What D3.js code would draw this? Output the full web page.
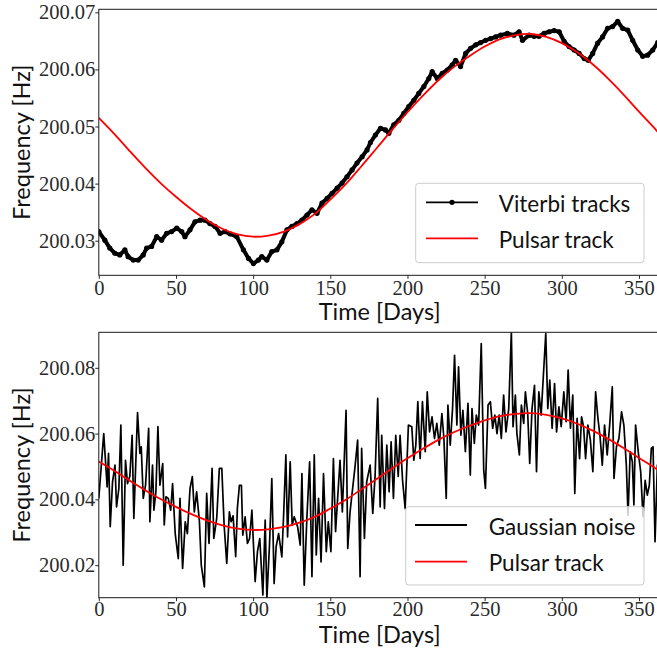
<!DOCTYPE html>
<html lang="en">
<head>
<meta charset="UTF-8">
<title>Viterbi tracks vs pulsar track</title>
<script src="https://cdn.jsdelivr.net/npm/d3@7"></script>
<style>
  body { margin: 0; background: #fff; }
  .tick text { font-family: "Liberation Serif", serif; font-size: 20.5px; fill: #2a2a2a; }
  .tick line { stroke: #262626; }
  .axis-label, .legend-label { font-family: Lato, sans-serif; fill: #111; }
</style>
</head>
<body>
<script>
// --- data ---
const xTicks = [0, 50, 100, 150, 200, 250, 300, 350];
const topYTicks = [200.03, 200.04, 200.05, 200.06, 200.07];
const bottomYTicks = [200.02, 200.04, 200.06, 200.08];

// injected pulsar signal (same in both panels)
const trackDays = [0, 10, 20, 30, 40, 50, 60, 70, 80, 90, 100, 110, 120, 130, 140, 150, 160, 170, 180,
  190, 200, 210, 220, 230, 240, 250, 260, 270, 280, 290, 300, 310, 320, 330, 340, 350, 360, 364];
const trackHz = [200.0515, 200.0487, 200.0457, 200.0428, 200.0401, 200.0377, 200.0355, 200.0336, 200.0321,
  200.0311, 200.0307, 200.0309, 200.0316, 200.0329, 200.0347, 200.0372, 200.0399, 200.0430, 200.0462,
  200.0494, 200.0525, 200.0554, 200.0581, 200.0604, 200.0623, 200.0640, 200.0653, 200.0660, 200.0662,
  200.0657, 200.0646, 200.0630, 200.0609, 200.0584, 200.0556, 200.0526, 200.0497, 200.0485];

// recovered Viterbi path (top panel)
const viterbiDays = [0, 3.9, 7.1, 10.4, 13.6, 16.9, 19, 22.3, 25.5, 28.8, 31, 34.2, 37.5, 40.7, 44, 47.2,
  50.5, 53.7, 55.8, 59.1, 62.3, 65.6, 68.8, 72, 75.3, 78.6, 81.8, 85, 89.4, 93.7, 97, 100.2, 103.4, 105.6,
  108.9, 112.1, 115.4, 118.6, 121.9, 125.1, 128.4, 131.6, 134.9, 138.1, 141.4, 144.6, 147.9, 151.1, 154.4,
  157.6, 160.8, 164.1, 167.3, 170.6, 173.8, 176, 179.2, 182.5, 185.7, 187.9, 191.1, 194.4, 197.6, 200.8,
  204.1, 207.3, 210.6, 213.8, 216, 219.3, 222.5, 225.8, 229, 231.2, 234.4, 237.7, 240.9, 244.2, 247.4,
  250.6, 253.9, 257.1, 260.4, 264.7, 269, 272.3, 274.5, 278.8, 282, 285.3, 288.5, 291.8, 295, 298.3,
  301.5, 304.7, 308, 311.2, 314.5, 317.1, 320, 323.2, 326.4, 329.7, 332.9, 336.2, 339.4, 342.7, 345.9,
  349.2, 352.4, 355.6, 358.9, 362.1, 364];
const viterbiHz = [200.0316, 200.0301, 200.0287, 200.0278, 200.0275, 200.0284, 200.0272, 200.0266, 200.0266,
  200.0275, 200.0287, 200.0290, 200.0307, 200.0301, 200.0313, 200.0316, 200.0322, 200.0316, 200.0307,
  200.0319, 200.0333, 200.0336, 200.0336, 200.0330, 200.0325, 200.0313, 200.0316, 200.0312, 200.0307,
  200.0284, 200.0269, 200.0260, 200.0266, 200.0272, 200.0266, 200.0281, 200.0284, 200.0298, 200.0319,
  200.0325, 200.0330, 200.0336, 200.0345, 200.0354, 200.0348, 200.0366, 200.0374, 200.0383, 200.0392,
  200.0401, 200.0412, 200.0424, 200.0436, 200.0447, 200.0459, 200.0472, 200.0485, 200.0497, 200.0494,
  200.0488, 200.0503, 200.0511, 200.0523, 200.0535, 200.0546, 200.0558, 200.0570, 200.0584, 200.0596,
  200.0584, 200.0593, 200.0599, 200.0608, 200.0616, 200.0605, 200.0628, 200.0637, 200.0643, 200.0647,
  200.0651, 200.0654, 200.0657, 200.0660, 200.0663, 200.0660, 200.0666, 200.0651, 200.0660, 200.0658,
  200.0658, 200.0663, 200.0666, 200.0668, 200.0666, 200.0649, 200.0640, 200.0634, 200.0628, 200.0619,
  200.0616, 200.0628, 200.0646, 200.0657, 200.0672, 200.0675, 200.0684, 200.0672, 200.0669, 200.0651,
  200.0634, 200.0623, 200.0625, 200.0634, 200.0647, 200.0652];

// gaussian-noise track (bottom panel)
const noiseDays = [0, 3.2, 5.4, 6.3, 7.4, 8.9, 10.5, 11.5, 13, 14.3, 15.8, 17.3, 18.6, 20.1, 21.6, 22.7,
  25.1, 26.6, 27.5, 28.8, 30.3, 32.3, 33.1, 34.8, 35.7, 37, 38.3, 39.6, 41.4, 42.4, 43.5, 45, 46.6, 47.8,
  49.5, 51.5, 52.6, 54.3, 56, 57.4, 59.1, 60.6, 61.9, 63.4, 65.2, 66.4, 68.4, 69.9, 71.4, 73.4, 74.5,
  76.4, 78.1, 79.7, 81.2, 82.9, 84.6, 85.7, 87, 88.7, 89.8, 91.1, 92.4, 93.3, 94.8, 96.3, 97.7, 99.2,
  101.3, 102.8, 104.3, 106.3, 107.8, 108.9, 110.6, 112.1, 113.6, 114.9, 116.5, 118.6, 119.7, 121.2,
  122.3, 124, 125.3, 126.6, 128.8, 130.5, 131.6, 133.1, 134.8, 136.6, 138.1, 139.6, 140.9, 142.4, 144,
  145.6, 147.4, 148.7, 150.4, 152, 153.4, 156.3, 157.8, 160.2, 161.3, 162.8, 166, 167.7, 169.3, 170.3,
  172.1, 173.6, 175.8, 177.5, 179, 180.7, 182.3, 183.3, 185.1, 186.6, 188.1, 189.4, 190.9, 192.4, 194,
  195.2, 196.8, 198.5, 199.6, 200.6, 202.8, 204.1, 205.4, 206.7, 208.2, 209.7, 211.5, 212.8, 214.3,
  215.9, 217.5, 219, 220.6, 222.3, 223.6, 225.1, 226.2, 227.7, 229.2, 230.5, 232, 233.1, 234.6, 235.9,
  237.5, 239.2, 240.7, 241.8, 243.3, 244.6, 246.1, 247.8, 249.4, 250.5, 252.2, 253.7, 255.2, 256.6,
  258, 259.4, 260.8, 262.3, 263.8, 265.6, 267.3, 268.4, 269.9, 270.9, 272.5, 273.8, 275.3, 276.4, 277.9,
  279.2, 280.7, 282.3, 283.6, 285.1, 286.6, 288, 289.6, 290.9, 292.2, 293.7, 295.3, 296.6, 298.1, 299.6,
  301.3, 302.8, 304.1, 305.6, 307.1, 308.4, 309.9, 311.5, 312.8, 314.1, 315.4, 316.9, 318.5, 320.1,
  321.9, 323.4, 324.8, 326.2, 327.7, 329.4, 331, 332.7, 333.8, 335.4, 337, 338.7, 340.2, 341.8, 342.9,
  344.3, 345.7, 346.7, 347.8, 349.5, 351.1, 352.6, 354, 355.4, 356.7, 358, 359.1, 360.4, 361.9, 364];
const noiseHz = [200.0403, 200.0600, 200.0438, 200.0540, 200.0317, 200.0453, 200.0504, 200.0377, 200.0433,
  200.0626, 200.0200, 200.0519, 200.0448, 200.0470, 200.0595, 200.0342, 200.0664, 200.0540, 200.0560,
  200.0403, 200.0443, 200.0616, 200.0332, 200.0504, 200.0367, 200.0423, 200.0621, 200.0443, 200.0509,
  200.0322, 200.0408, 200.0403, 200.0367, 200.0448, 200.0296, 200.0220, 200.0403, 200.0190, 200.0332,
  200.0296, 200.0433, 200.0469, 200.0362, 200.0423, 200.0332, 200.0200, 200.0134, 200.0418, 200.0266,
  200.0494, 200.0281, 200.0342, 200.0494, 200.0494, 200.0322, 200.0205, 200.0362, 200.0332, 200.0350,
  200.0226, 200.0374, 200.0443, 200.0443, 200.0291, 200.0347, 200.0266, 200.0281, 200.0367, 200.0150,
  200.0241, 200.0281, 200.0109, 200.0337, 200.0099, 200.0261, 200.0463, 200.0144, 200.0256, 200.0296,
  200.0225, 200.0347, 200.0535, 200.0286, 200.0514, 200.0322, 200.0347, 200.0317, 200.0261, 200.0478,
  200.0139, 200.0342, 200.0514, 200.0165, 200.0535, 200.0231, 200.0403, 200.0210, 200.0478, 200.0241,
  200.0332, 200.0241, 200.0524, 200.0302, 200.0519, 200.0362, 200.0671, 200.0251, 200.0362, 200.0499,
  200.0580, 200.0165, 200.0555, 200.0281, 200.0454, 200.0504, 200.0357, 200.0470, 200.0707, 200.0377,
  200.0595, 200.0372, 200.0565, 200.0423, 200.0575, 200.0403, 200.0595, 200.0470, 200.0595, 200.0459,
  200.0372, 200.0504, 200.0626, 200.0621, 200.0519, 200.0565, 200.0697, 200.0524, 200.0697, 200.0545,
  200.0727, 200.0605, 200.0651, 200.0585, 200.0631, 200.0565, 200.0661, 200.0585, 200.0403, 200.0687,
  200.0565, 200.0676, 200.0838, 200.0626, 200.0803, 200.0595, 200.0671, 200.0545, 200.0692, 200.0474,
  200.0676, 200.0570, 200.0656, 200.0626, 200.0874, 200.0489, 200.0433, 200.0687, 200.0697, 200.0616,
  200.0656, 200.0600, 200.0656, 200.0585, 200.0717, 200.0605, 200.0676, 200.0909, 200.0621, 200.0717,
  200.0600, 200.0535, 200.0687, 200.0631, 200.0727, 200.0661, 200.0509, 200.0676, 200.0747, 200.0484,
  200.0727, 200.0656, 200.0772, 200.0904, 200.0676, 200.0763, 200.0616, 200.0752, 200.0605, 200.0681,
  200.0621, 200.0727, 200.0636, 200.0793, 200.0616, 200.0717, 200.0418, 200.0646, 200.0524, 200.0651,
  200.0621, 200.0524, 200.0626, 200.0580, 200.0484, 200.0727, 200.0646, 200.0590, 200.0504, 200.0626,
  200.0535, 200.0626, 200.0742, 200.0464, 200.0560, 200.0585, 200.0666, 200.0626, 200.0504, 200.0352,
  200.0545, 200.0514, 200.0383, 200.0626, 200.0545, 200.0484, 200.0347, 200.0458, 200.0413, 200.0443,
  200.0555, 200.0560, 200.0271, 200.0504, 200.0480];

// --- layout ---
const W = 657, H = 648;
const svg = d3.select("body").append("svg").attr("width", W).attr("height", H);

const x = d3.scaleLinear().domain([0, 364]).range([98.8, 98.8 + 364 * 1.5434]);
const zip = (a, b) => a.map((d, i) => ({ day: d, hz: b[i] }));

const panels = [
  {
    id: "top", top: 9.3, bottom: 275.3, yDomain: [200.02394, 200.07053], yTicks: topYTicks,
    xTickPad: 1.5, xLabelY: 320,
    legend: { x: 415.7, y: 183.3, w: 228.3, h: 79.4, lineX: 426, textX: 498.7, rows: [202.3, 238.3] },
    items: [
      { label: "Viterbi tracks", color: "#000", marker: true },
      { label: "Pulsar track", color: "#ff0000" }
    ]
  },
  {
    id: "bottom", top: 332.3, bottom: 597.7, yDomain: [200.0101, 200.0908], yTicks: bottomYTicks,
    xTickPad: 0.5, xLabelY: 642.5,
    legend: { x: 405.7, y: 506.7, w: 238.3, h: 78.3, lineX: 415, textX: 488.7, rows: [525, 561.7] },
    items: [
      { label: "Gaussian noise", color: "#000" },
      { label: "Pulsar track", color: "#ff0000" }
    ]
  }
];

panels.forEach(p => {
  const y = d3.scaleLinear().domain(p.yDomain).range([p.bottom, p.top]);
  const g = svg.append("g").attr("id", p.id);

  g.append("clipPath").attr("id", "clip-" + p.id)
    .append("rect")
    .attr("x", x.range()[0]).attr("y", p.top)
    .attr("width", x.range()[1] - x.range()[0]).attr("height", p.bottom - p.top);

  const plot = g.append("g").attr("clip-path", `url(#clip-${p.id})`);
  const line = d3.line().x(d => x(d.day)).y(d => y(d.hz));

  if (p.id === "top") {
    const vit = zip(viterbiDays, viterbiHz);
    plot.append("path").datum(vit)
      .attr("d", line)
      .attr("fill", "none").attr("stroke", "#000")
      .attr("stroke-width", 4).attr("stroke-linejoin", "round");
    plot.selectAll("circle.vit").data(vit).enter().append("circle")
      .attr("class", "vit")
      .attr("cx", d => x(d.day)).attr("cy", d => y(d.hz))
      .attr("r", 2.6).attr("fill", "#000");
  } else {
    plot.append("path").datum(zip(noiseDays, noiseHz))
      .attr("d", line)
      .attr("fill", "none").attr("stroke", "#000")
      .attr("stroke-width", 1.7).attr("stroke-linejoin", "round");
  }

  plot.append("path").datum(zip(trackDays, trackHz))
    .attr("d", line.curve(d3.curveCatmullRom))
    .attr("fill", "none").attr("stroke", "#ff0000").attr("stroke-width", 1.8);

  // axes
  g.append("g")
    .attr("transform", `translate(${x.range()[0]},0)`)
    .call(d3.axisLeft(y).tickValues(p.yTicks).tickFormat(d3.format(".2f"))
      .tickSize(3.5).tickSizeOuter(0).tickPadding(0))
    .call(a => a.select(".domain").remove());

  g.append("g")
    .attr("transform", `translate(0,${p.bottom})`)
    .call(d3.axisBottom(x).tickValues(xTicks).tickFormat(d3.format("d"))
      .tickSize(3.5).tickSizeOuter(0).tickPadding(p.xTickPad))
    .call(a => a.select(".domain").remove());

  // frame
  g.append("rect")
    .attr("x", x.range()[0]).attr("y", p.top)
    .attr("width", x.range()[1] - x.range()[0]).attr("height", p.bottom - p.top)
    .attr("fill", "none").attr("stroke", "#1a1a1a").attr("stroke-width", 1);

  // axis labels
  g.append("text").attr("class", "axis-label")
    .attr("x", (x.range()[0] + x.range()[1]) / 2).attr("y", p.xLabelY)
    .attr("text-anchor", "middle").attr("font-size", "23.5px")
    .text("Time [Days]");

  g.append("text").attr("class", "axis-label")
    .attr("transform", `translate(30,${(p.top + p.bottom) / 2}) rotate(-90)`)
    .attr("text-anchor", "middle").attr("font-size", "23.5px")
    .text("Frequency [Hz]");

  // legend
  const L = p.legend;
  const lg = g.append("g");
  lg.append("rect")
    .attr("x", L.x).attr("y", L.y).attr("width", L.w).attr("height", L.h)
    .attr("rx", 3).attr("fill", "#fff").attr("fill-opacity", 0.8)
    .attr("stroke", "#cccccc").attr("stroke-width", 1);

  p.items.forEach((it, i) => {
    const ry = L.rows[i];
    lg.append("line")
      .attr("x1", L.lineX).attr("x2", L.lineX + 52)
      .attr("y1", ry).attr("y2", ry)
      .attr("stroke", it.color).attr("stroke-width", 1.8);
    if (it.marker) {
      lg.append("circle").attr("cx", L.lineX + 26).attr("cy", ry).attr("r", 2.6).attr("fill", it.color);
    }
    lg.append("text").attr("class", "legend-label")
      .attr("x", L.textX).attr("y", ry + 9.5)
      .attr("font-size", "22.5px")
      .text(it.label);
  });
});
</script>
</body>
</html>
